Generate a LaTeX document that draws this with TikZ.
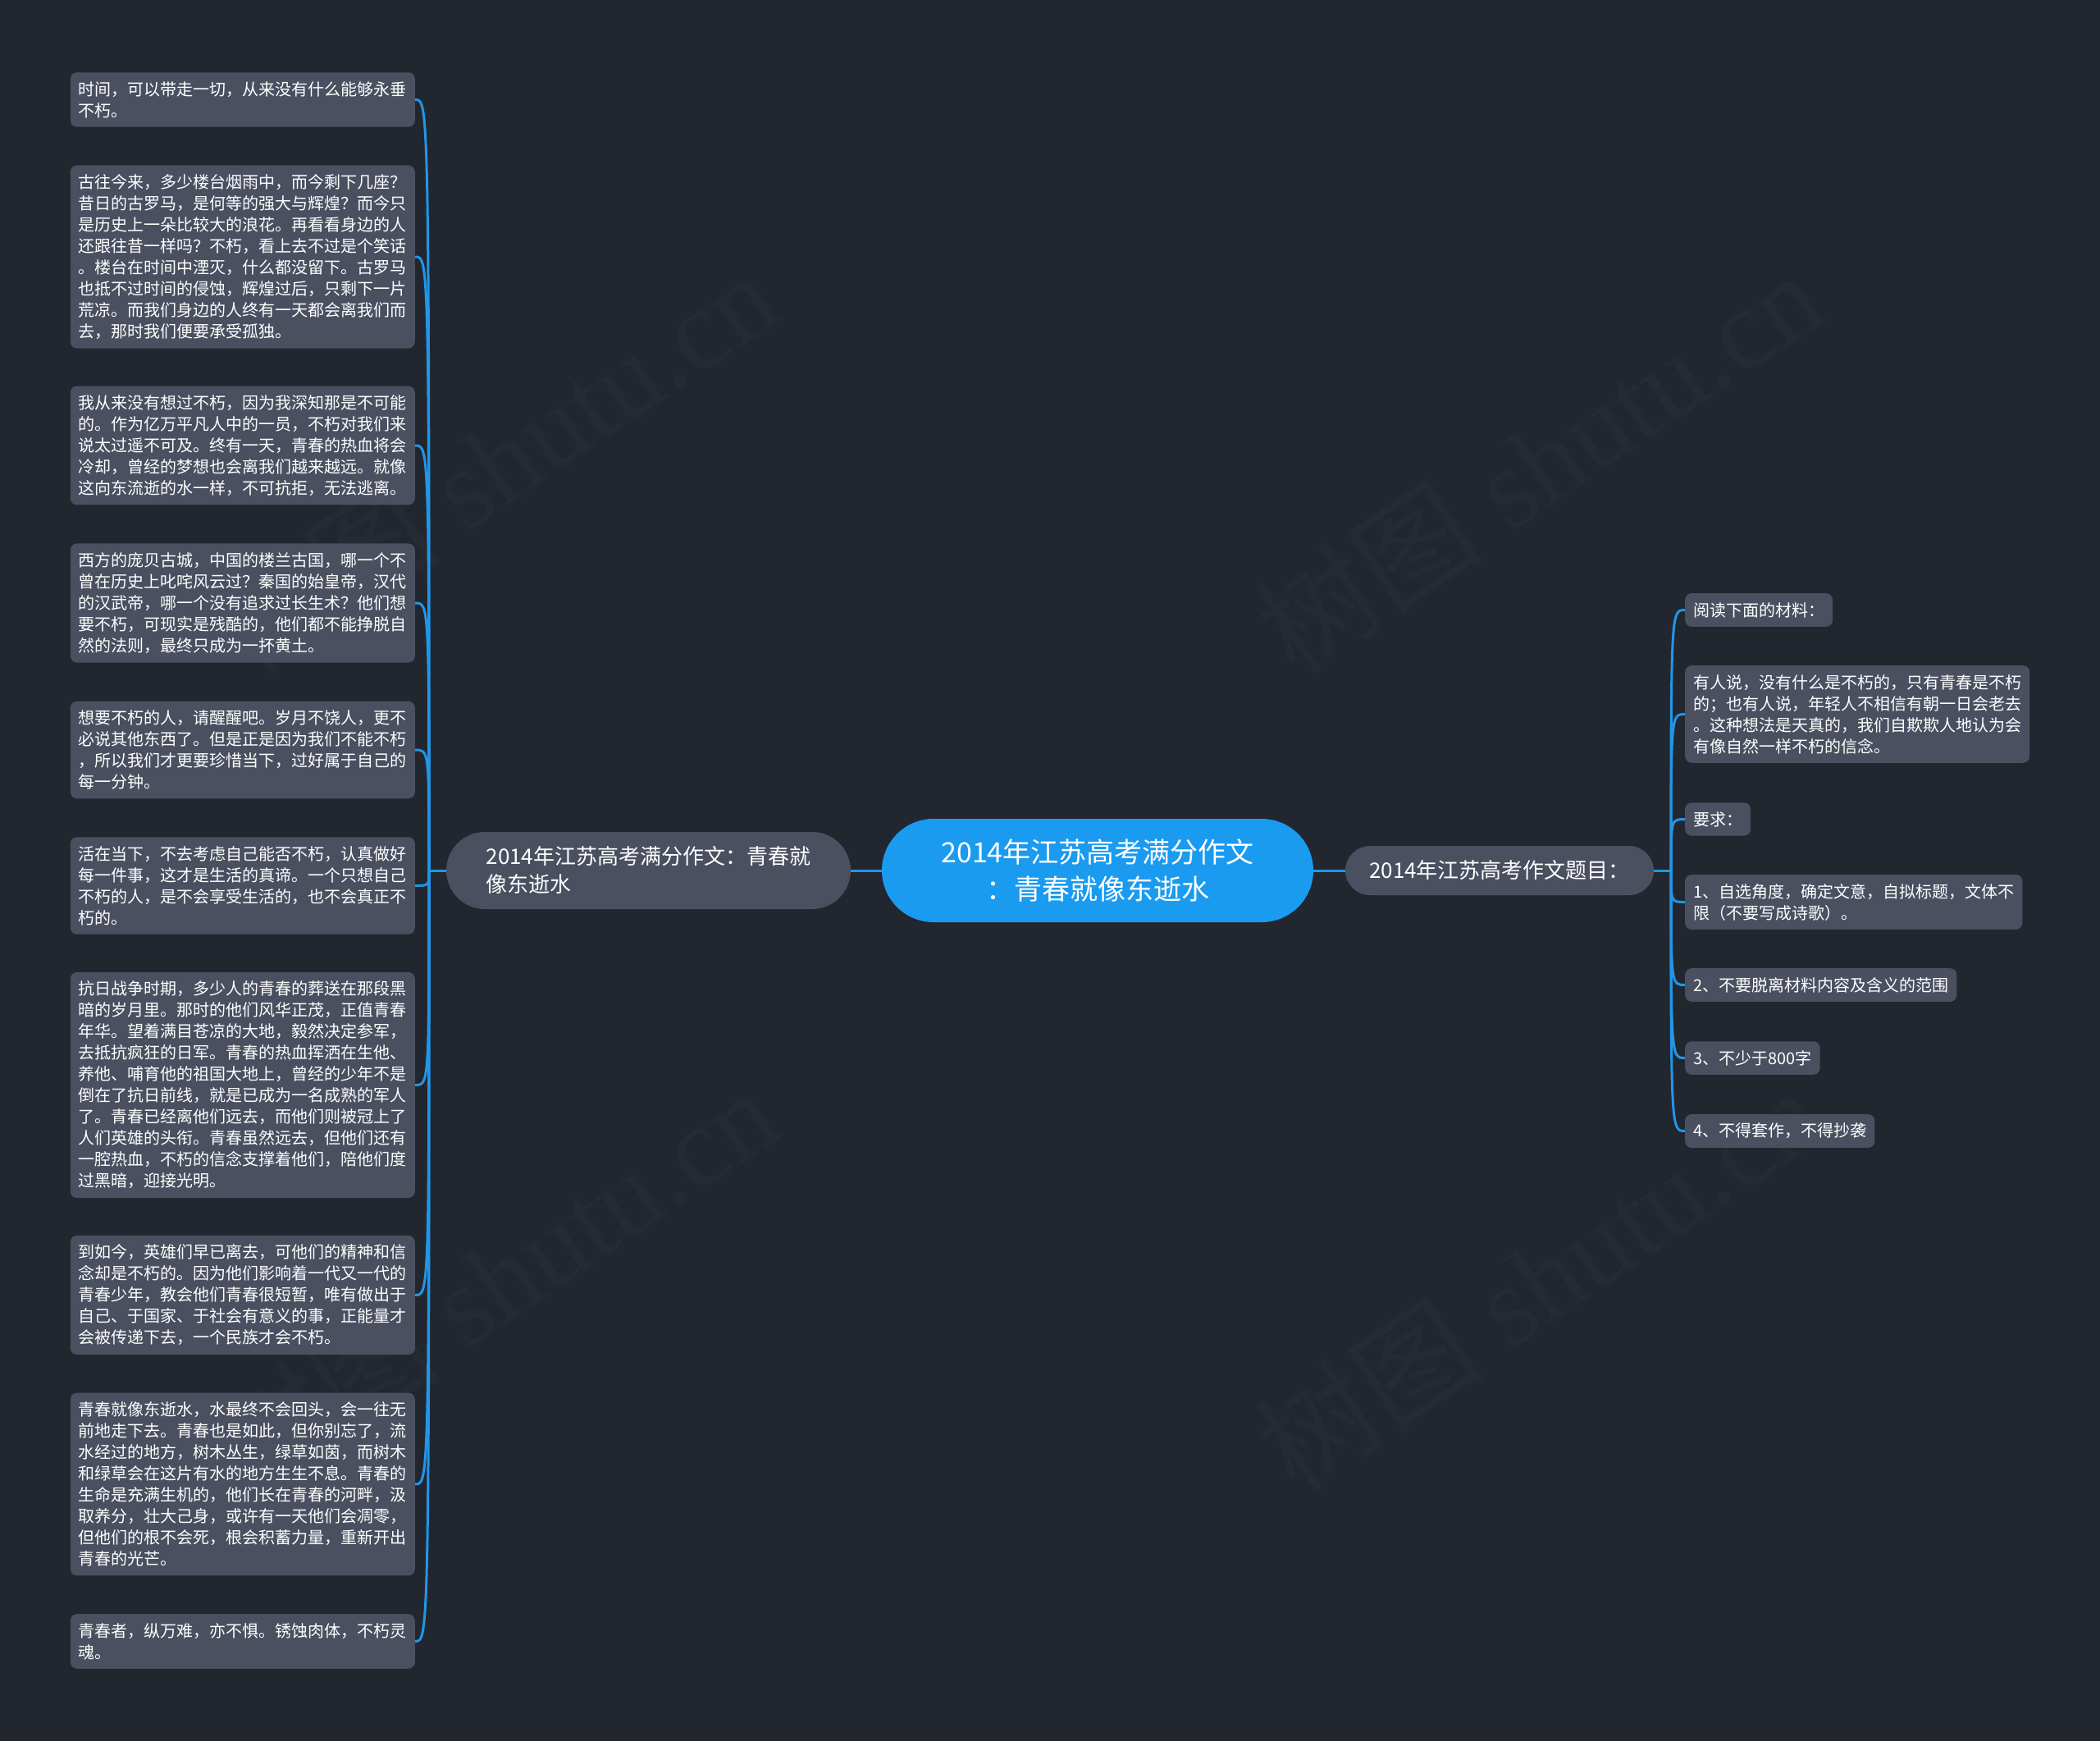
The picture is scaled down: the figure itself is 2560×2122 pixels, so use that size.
\documentclass[tikz,border=0pt]{standalone}
\usepackage{fontspec}
\newfontfamily\cjk{Noto Sans CJK SC}
\newfontfamily\wmserif{Liberation Serif}
\usetikzlibrary{positioning}
\definecolor{canvasbg}{HTML}{22262F}
\definecolor{leafbg}{HTML}{4A5060}
\definecolor{rootbg}{HTML}{1A9BF0}
\definecolor{linkblue}{HTML}{2196E8}

\begin{document}
\begin{tikzpicture}[
    x=1pt, y=-1pt,
    every node/.style={font=\cjk, text=white, inner sep=0pt},
    leaf/.style={fill=leafbg, rounded corners=8pt, align=left, inner xsep=10pt, inner ysep=11pt, font=\cjk\fontsize{20pt}{26pt}\selectfont},
    wideleaf/.style={leaf, text width=400pt},
    topic/.style={fill=leafbg, align=left, font=\cjk\fontsize{26pt}{34pt}\selectfont},
    centerbox/.style={fill=rootbg, align=center, minimum width=526pt, minimum height=126pt, rounded corners=63pt, font=\cjk\fontsize{34pt}{45pt}\selectfont},
    link/.style={draw=linkblue, line width=3pt},
    watermark/.style={text=white, text opacity=0.018, rotate=34, font=\wmserif\fontsize{140pt}{140pt}\selectfont}
]
\fill[canvasbg] (0,0) rectangle (2560,2122);
\useasboundingbox (0,0) rectangle (2560,2122);

% faint watermarks
\node[watermark] (wm1) at (602,563) {{\cjk 树图} shutu.cn};
\node[watermark] (wm2) at (1875,563) {{\cjk 树图} shutu.cn};
\node[watermark] (wm3) at (602,1559) {{\cjk 树图} shutu.cn};
\node[watermark] (wm4) at (1875,1559) {{\cjk 树图} shutu.cn};

% centre and the two branches
\node[centerbox] (root) at (1338,1061) {2014年江苏高考满分作文\\：青春就像东逝水};
\node[topic, minimum width=493pt, minimum height=94pt, rounded corners=47pt] (essay) at (790.5,1061) {2014年江苏高考满分作文：青春就\\像东逝水};
\node[topic, minimum width=376pt, minimum height=60pt, rounded corners=30pt] (prompt) at (1828,1061) {2014年江苏高考作文题目：};

% essay paragraphs
\node[wideleaf, anchor=east] (e1) at (506,121.5) {时间，可以带走一切，从来没有什么能够永垂\\不朽。};
\node[wideleaf, anchor=east] (e2) at (506,313) {古往今来，多少楼台烟雨中，而今剩下几座？\\昔日的古罗马，是何等的强大与辉煌？而今只\\是历史上一朵比较大的浪花。再看看身边的人\\还跟往昔一样吗？不朽，看上去不过是个笑话\\。楼台在时间中湮灭，什么都没留下。古罗马\\也抵不过时间的侵蚀，辉煌过后，只剩下一片\\荒凉。而我们身边的人终有一天都会离我们而\\去，那时我们便要承受孤独。};
\node[wideleaf, anchor=east] (e3) at (506,543) {我从来没有想过不朽，因为我深知那是不可能\\的。作为亿万平凡人中的一员，不朽对我们来\\说太过遥不可及。终有一天，青春的热血将会\\冷却，曾经的梦想也会离我们越来越远。就像\\这向东流逝的水一样，不可抗拒，无法逃离。};
\node[wideleaf, anchor=east] (e4) at (506,735) {西方的庞贝古城，中国的楼兰古国，哪一个不\\曾在历史上叱咤风云过？秦国的始皇帝，汉代\\的汉武帝，哪一个没有追求过长生术？他们想\\要不朽，可现实是残酷的，他们都不能挣脱自\\然的法则，最终只成为一抔黄土。};
\node[wideleaf, anchor=east] (e5) at (506,914) {想要不朽的人，请醒醒吧。岁月不饶人，更不\\必说其他东西了。但是正是因为我们不能不朽\\，所以我们才更要珍惜当下，过好属于自己的\\每一分钟。};
\node[wideleaf, anchor=east] (e6) at (506,1079.5) {活在当下，不去考虑自己能否不朽，认真做好\\每一件事，这才是生活的真谛。一个只想自己\\不朽的人，是不会享受生活的，也不会真正不\\朽的。};
\node[wideleaf, anchor=east] (e7) at (506,1322.5) {抗日战争时期，多少人的青春的葬送在那段黑\\暗的岁月里。那时的他们风华正茂，正值青春\\年华。望着满目苍凉的大地，毅然决定参军，\\去抵抗疯狂的日军。青春的热血挥洒在生他、\\养他、哺育他的祖国大地上，曾经的少年不是\\倒在了抗日前线，就是已成为一名成熟的军人\\了。青春已经离他们远去，而他们则被冠上了\\人们英雄的头衔。青春虽然远去，但他们还有\\一腔热血，不朽的信念支撑着他们，陪他们度\\过黑暗，迎接光明。};
\node[wideleaf, anchor=east] (e8) at (506,1578.5) {到如今，英雄们早已离去，可他们的精神和信\\念却是不朽的。因为他们影响着一代又一代的\\青春少年，教会他们青春很短暂，唯有做出于\\自己、于国家、于社会有意义的事，正能量才\\会被传递下去，一个民族才会不朽。};
\node[wideleaf, anchor=east] (e9) at (506,1809) {青春就像东逝水，水最终不会回头，会一往无\\前地走下去。青春也是如此，但你别忘了，流\\水经过的地方，树木丛生，绿草如茵，而树木\\和绿草会在这片有水的地方生生不息。青春的\\生命是充满生机的，他们长在青春的河畔，汲\\取养分，壮大己身，或许有一天他们会凋零，\\但他们的根不会死，根会积蓄力量，重新开出\\青春的光芒。};
\node[wideleaf, anchor=east] (e10) at (506,2000.5) {青春者，纵万难，亦不惧。锈蚀肉体，不朽灵\\魂。};

% exam prompt
\node[leaf, anchor=west] (p1) at (2054,743.5) {阅读下面的材料：};
\node[leaf, anchor=west] (p2) at (2054,870.5) {有人说，没有什么是不朽的，只有青春是不朽\\的；也有人说，年轻人不相信有朝一日会老去\\。这种想法是天真的，我们自欺欺人地认为会\\有像自然一样不朽的信念。};
\node[leaf, anchor=west] (p3) at (2054,998.5) {要求：};
\node[leaf, anchor=west] (p4) at (2054,1099.5) {1、自选角度，确定文意，自拟标题，文体不\\限（不要写成诗歌）。};
\node[leaf, anchor=west] (p5) at (2054,1200.5) {2、不要脱离材料内容及含义的范围};
\node[leaf, anchor=west] (p6) at (2054,1289.5) {3、不少于800字};
\node[leaf, anchor=west] (p7) at (2054,1378.5) {4、不得套作，不得抄袭};

% connectors
\coordinate (jl) at (523,1061);
\coordinate (jr) at (2037,1061);
\draw[link] (root.west) -- (essay.east);
\draw[link] (root.east) -- (prompt.west);
\draw[link] (essay.west) -- (jl);
\draw[link] (prompt.east) -- (jr);
\foreach \i in {1,...,10}
  \draw[link] (jl) .. controls (jl |- e\i.east) .. (e\i.east);
\foreach \i in {1,...,7}
  \draw[link] (jr) .. controls (jr |- p\i.west) .. (p\i.west);
\end{tikzpicture}
\end{document}
